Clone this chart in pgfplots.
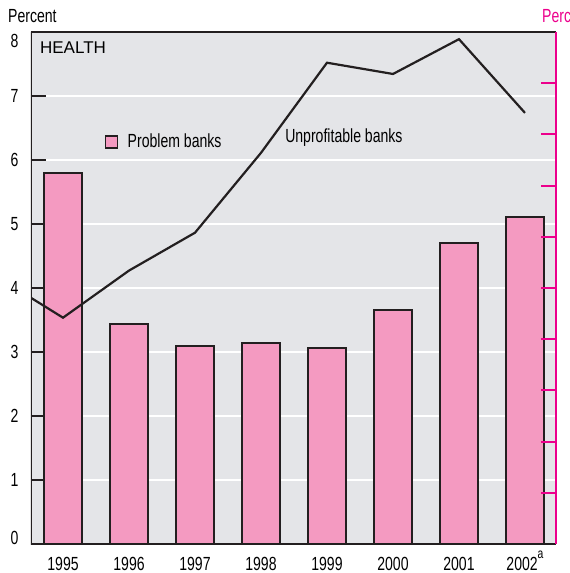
\documentclass[border=0pt]{standalone}
\usepackage{fontspec}
\setmainfont{Liberation Sans}[FakeStretch=0.74]
\newfontfamily\regfont{Liberation Sans}
\usepackage{pgfplots}
\usepackage{pgfplotstable}
\pgfplotsset{compat=1.18}
\definecolor{bg}{HTML}{E4E5E8}
\definecolor{barpink}{HTML}{F49AC1}
\definecolor{mag}{HTML}{EC008C}
\definecolor{ink}{HTML}{231F20}
\newcommand\chartfont{\fontsize{19}{21}\selectfont}

% problem banks, percent (left scale)
\pgfplotstableread{
x v
0 5.80
1 3.44
2 3.09
3 3.14
4 3.06
5 3.66
6 4.70
7 5.11
}\problem

% unprofitable banks, percent (right scale)
\pgfplotstableread{
x v
-1 5.22
0 4.42
1 5.34
2 6.08
3 7.64
4 9.40
5 9.18
6 9.86
7 8.42
}\unprof

\begin{document}
\chartfont
\begin{tikzpicture}
\clip (-31pt,-29pt) rectangle (539pt,544pt);
\begin{axis}[
  scale only axis, width=525pt, height=512pt,
  xmin=-0.485, xmax=7.47, ymin=0, ymax=8,
  axis background/.style={fill=bg},
  axis line style={draw=none},
  ytick={0,...,8}, ytick pos=left,
  yticklabels={\raisebox{6pt}[\height][\depth]{0},1,2,3,4,5,6,7,\raisebox{-9pt}[\height][\depth]{8}},
  xtick={0,...,7},
  xticklabels={1995,1996,1997,1998,1999,2000,2001,2002\raisebox{1.1ex}{\fontsize{14}{14}\selectfont a}},
  x tick style={draw=none},
  y tick style={ink, line width=2pt},
  major tick length=15pt, tick align=inside,
  ymajorgrids, grid style={white, line width=1.5pt},
  /pgf/number format/assume math mode=true,
  tick label style={font=\chartfont},
  yticklabel style={xshift=-6pt},
  xticklabel style={anchor=base, yshift=-26pt},
  legend style={at={(rel axis cs:0.14,0.785)}, anchor=west, draw=none, fill=none,
    font=\chartfont, inner sep=0pt},
  legend image code/.code={\draw[fill=barpink, draw=ink, line width=1.5pt] (0pt,-6pt) rectangle (12pt,6pt); \path (19pt,0pt);},
]
\addplot[ybar, bar width=38pt, fill=barpink, draw=ink, line width=2.5pt] table {\problem};
\addlegendentry{Problem banks}
\node[anchor=west, inner sep=0pt] at (rel axis cs:0.017,0.969) {\regfont\fontsize{17}{19}\selectfont HEALTH};
\node[inner sep=0pt] at (rel axis cs:0.596,0.794) {Unprofitable banks};
\draw[ink, line width=2pt] (rel axis cs:0,1) -- (rel axis cs:1,1);
\draw[ink, line width=3pt] (rel axis cs:0,1) -- (rel axis cs:0,0) -- (rel axis cs:1,0);
\end{axis}
\begin{axis}[
  scale only axis, width=525pt, height=512pt,
  xmin=-0.485, xmax=7.47, ymin=0, ymax=10,
  axis x line=none, axis y line*=right,
  axis line style={mag, line width=2pt, -},
  ytick={1,...,9}, yticklabels={},
  y tick style={mag, line width=2pt},
  major tick length=15pt, tick align=inside,
]
\addplot[ink, line width=2.2pt] table {\unprof};
\end{axis}
\node[anchor=base west, inner sep=0pt] at (-23pt,521pt) {Percent};
\node[anchor=base west, inner sep=0pt, text=mag] at (511pt,521pt) {Percent};
\end{tikzpicture}
\end{document}
